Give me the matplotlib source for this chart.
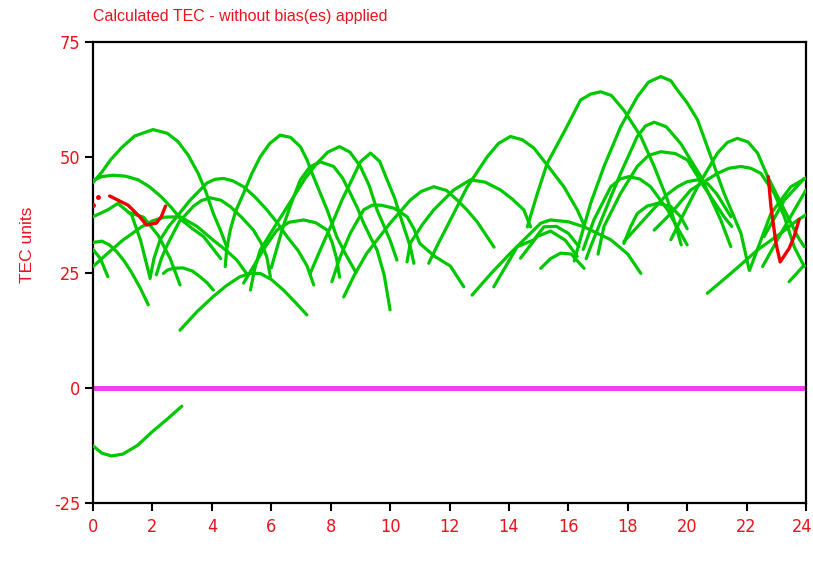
import matplotlib
matplotlib.use("Agg")
import matplotlib.pyplot as plt
import matplotlib.transforms as mtransforms
from matplotlib import font_manager as fm

# ---- data: (hour, TEC) samples ----
pass_01 = [(0, 44.5), (0.3, 46.8), (0.6, 49.5), (0.95, 52), (1.4, 54.6), (2.02, 56), (2.5, 55.2), (2.86, 53.4), (3.2, 50.5), (3.54, 46.5), (3.8, 42.5), (4.05, 37.8), (4.3, 34), (4.5, 30.6)]
pass_02 = [(0, 45), (0.3, 45.8), (0.67, 46.1), (1.1, 45.9), (1.52, 45.1), (1.9, 43.6), (2.3, 41.4), (2.65, 39), (2.98, 36.4), (3.35, 34.5), (3.72, 32.8), (4.0, 30.5), (4.3, 28)]
pass_03 = [(0, 31.5), (0.3, 31.8), (0.55, 31), (0.8, 29.5), (1.05, 27.5), (1.3, 25), (1.6, 21.5), (1.86, 18)]
pass_04 = [(0, 30), (0.25, 28), (0.5, 24.1)]
pass_05 = [(0, 26.3), (0.5, 29.2), (1.0, 32), (1.63, 34.9), (2.0, 36.2), (2.4, 37), (2.93, 37.1), (3.5, 35), (4.05, 32), (4.5, 29.7), (4.84, 27.7), (5.2, 24.5)]
pass_06 = [(2.37, 24.8), (2.5, 25.5), (2.7, 25.9), (3.03, 26), (3.35, 25.3), (3.6, 24.1), (3.85, 22.7), (4.05, 21.2)]
pass_07 = [(2.93, 12.5), (3.5, 16.5), (4.05, 19.8), (4.5, 22.2), (4.95, 24.1), (5.3, 24.8), (5.63, 24.8), (6.0, 23.5), (6.41, 21.2), (6.8, 18.6), (7.2, 15.8)]
pass_08 = [(1.92, 23.7), (2.05, 28), (2.26, 32.1), (2.55, 35), (2.82, 37.1), (3.27, 40.7), (3.83, 44.4), (4.1, 45.2), (4.39, 45.4), (4.7, 44.9), (5.07, 43.6), (5.45, 41.4), (5.85, 38.6), (6.2, 35.8), (6.53, 32.8), (6.9, 29.8), (7.2, 26.5), (7.43, 22.3)]
pass_09 = [(2.13, 24.5), (2.3, 28), (2.5, 31), (2.9, 36), (3.4, 39.5), (3.65, 40.6), (3.94, 41.2), (4.3, 40.7), (4.62, 39.3), (5.0, 37), (5.4, 34.2), (5.65, 31.5), (5.85, 28.4), (5.97, 24.1)]
pass_10 = [(4.45, 26.3), (4.5, 30), (4.62, 34.2), (4.8, 38.3), (5.07, 42.2), (5.35, 46.5), (5.63, 50.1), (5.95, 53), (6.3, 54.8), (6.65, 54.3), (6.98, 52.3), (7.2, 49.5), (7.42, 45.8), (7.65, 42.2), (7.88, 38.6), (8.2, 32.8), (8.5, 29), (8.85, 25)]
pass_11 = [(5.07, 22.7), (5.4, 26.3), (5.8, 30.6), (6.19, 34.2), (6.6, 35.9), (7.09, 36.4), (7.5, 35.8), (7.88, 34.2), (8.05, 31.5), (8.2, 28), (8.3, 24)]
pass_12 = [(6.0, 26), (6.2, 30.5), (6.4, 35), (6.7, 40.5), (6.98, 45.1), (7.3, 47.9), (7.65, 49), (8.1, 48), (8.4, 45.5), (8.66, 42.2), (8.9, 39), (9.11, 35.7), (9.35, 32.5), (9.56, 29.9), (9.8, 24.5), (10.0, 16.9)]
pass_13 = [(5.3, 21.2), (5.45, 26), (5.63, 29.9), (6.19, 35.7), (6.75, 41.4), (7.15, 45.5), (7.54, 48.7), (7.9, 51.1), (8.3, 52.3), (8.65, 51.1), (9.0, 48), (9.3, 43.8), (9.56, 38.6), (10.0, 32), (10.23, 27.7)]
pass_14 = [(7.31, 24.8), (7.65, 29.9), (8.1, 36.4), (8.4, 41), (8.66, 44.4), (9.0, 49), (9.34, 50.9), (9.65, 49.1), (9.9, 45.1), (10.15, 41.2), (10.35, 37.1), (10.68, 30.6), (10.8, 27)]
pass_15 = [(8.04, 23), (8.32, 28.4), (8.66, 33.5), (9.11, 38.6), (9.4, 39.6), (9.7, 39.6), (10.15, 38.9), (10.57, 37.1), (10.8, 34.5), (11.0, 31.3), (11.5, 28.5), (12.03, 26.4), (12.48, 21.9)]
pass_16 = [(8.44, 19.7), (8.8, 24.5), (9.22, 29.2), (10.0, 35.7), (10.68, 40.7), (11.05, 42.6), (11.47, 43.6), (11.9, 42.8), (12.26, 40.7), (12.6, 38.5), (12.93, 36), (13.5, 30.5)]
pass_17 = [(10.57, 27.3), (10.68, 31.4), (11.1, 35.5), (11.47, 38.6), (12.14, 42.9), (12.7, 45.1), (13.2, 44.6), (13.72, 42.9), (14.1, 41), (14.5, 38.6), (14.73, 34.9)]
pass_18 = [(11.3, 27), (11.6, 31), (12.14, 37.8), (12.6, 43.6), (13.27, 50.1), (13.65, 53), (14.05, 54.5), (14.45, 53.8), (14.84, 52), (15.29, 48.3), (15.85, 43.6), (16.3, 38.6), (16.55, 35)]
pass_19 = [(14.62, 34.9), (14.95, 42), (15.29, 48.7), (15.9, 56), (16.41, 62.4), (16.75, 63.7), (17.09, 64.2), (17.45, 63.4), (17.87, 60.2), (18.44, 54.5), (18.89, 48), (19.34, 40.7), (19.6, 35.5), (19.8, 31)]
pass_20 = [(16.2, 27.5), (16.3, 29.9), (16.75, 40), (17.2, 48), (17.76, 56.6), (18.32, 63.1), (18.7, 66.3), (19.11, 67.5), (19.45, 66.6), (19.67, 64.6), (20.0, 61.8), (20.35, 58.1), (20.8, 50.1), (21.24, 42.2), (21.81, 33.5), (22.09, 25.5)]
pass_21 = [(16.6, 28), (16.75, 30.6), (17.2, 37.8), (17.76, 46.5), (18.32, 54.5), (18.6, 56.8), (18.89, 57.6), (19.3, 56.6), (19.78, 53), (20.46, 45.8), (21.13, 36.4), (21.47, 30.6)]
pass_22 = [(17.0, 29), (17.2, 35), (17.76, 42.2), (18.32, 48), (18.7, 50.4), (19.11, 51.2), (19.6, 50.8), (20.01, 49.4), (20.57, 43.6), (21.24, 37.1), (21.5, 35)]
pass_23 = [(16.5, 30), (16.86, 36.4), (17.43, 43.6), (17.75, 45.3), (18.04, 45.8), (18.4, 45.3), (18.77, 43.6), (19.34, 38.6), (19.78, 33.5), (20.0, 31)]
pass_24 = [(17.87, 31.3), (18.1, 35), (18.32, 37.8), (18.65, 39.4), (19.0, 40), (19.45, 39.3), (19.78, 37.1), (20.0, 34.5)]
pass_25 = [(12.76, 20.1), (13.4, 24.8), (14.05, 29.2), (15.07, 35.7), (15.4, 36.4), (16.0, 36), (16.53, 34.9), (17.43, 32.1), (18.0, 29), (18.44, 24.8)]
pass_26 = [(19.45, 32.1), (19.78, 36.4), (20.35, 43.6), (21.02, 50.9), (21.35, 53.2), (21.69, 54.1), (22.05, 53.3), (22.37, 50.9), (22.71, 45.8), (23.27, 38.6), (23.72, 32.8), (23.94, 30.6)]
pass_27 = [(18.89, 34.2), (19.45, 37.8), (20.12, 42.9), (21.02, 46.5), (21.4, 47.6), (21.81, 48), (22.15, 47.6), (22.48, 46.5), (22.93, 42.2), (23.27, 37.1), (23.6, 30.6), (23.94, 26.3)]
pass_28 = [(17.87, 31.7), (18.9, 39), (19.3, 41.8), (19.67, 43.6), (20.0, 44.7), (20.35, 45.1), (20.7, 44.2), (21.0, 42), (21.47, 37.1)]
pass_29 = [(20.68, 20.5), (21.47, 24.8), (22.37, 29.9), (23.15, 33.5), (23.72, 36.4), (24.0, 37.5)]
pass_30 = [(22.59, 32.8), (23.27, 40.7), (23.94, 45.4)]
pass_31 = [(22.1, 25.5), (22.82, 37.8), (23.49, 43.6), (24.0, 45.5)]
pass_32 = [(22.54, 26.3), (23.2, 34), (24.0, 42.9)]
pass_33 = [(23.43, 23), (23.94, 26.6)]
pass_34 = [(13.49, 21.9), (14.28, 30.6), (14.84, 32.1), (15.18, 34.9), (15.6, 35), (16.0, 33.5), (16.36, 30.6)]
pass_35 = [(14.39, 28.1), (14.95, 32.8), (15.4, 34), (15.9, 32), (16.3, 28.5)]
pass_36 = [(15.07, 25.9), (15.4, 28), (15.74, 29.2), (16.1, 29), (16.53, 25.9)]
pass_37 = [(0, 37.1), (0.5, 38.6), (0.84, 40), (1.3, 37.5), (1.6, 32), (1.91, 24.1)]
pass_38 = [(1.2, 38), (1.7, 37), (2.2, 33), (2.6, 28), (2.93, 22.3)]
pass_39 = [(0, -12.6), (0.3, -14.2), (0.63, -14.8), (1.0, -14.4), (1.5, -12.5), (2.0, -9.5), (2.5, -6.8), (2.99, -4.0)]

green_passes = [pass_01, pass_02, pass_03, pass_04, pass_05, pass_06, pass_07, pass_08,
                pass_09, pass_10, pass_11, pass_12, pass_13, pass_14, pass_15, pass_16,
                pass_17, pass_18, pass_19, pass_20, pass_21, pass_22, pass_23, pass_24,
                pass_25, pass_26, pass_27, pass_28, pass_29, pass_30, pass_31, pass_32,
                pass_33, pass_34, pass_35, pass_36, pass_37, pass_38, pass_39]

red_pass_a = [(0.56, 41.6), (1.18, 39.6), (1.57, 37.1), (1.8, 35.3), (2.13, 35.7), (2.3, 37.1), (2.44, 39.4)]
red_dots_a = [(0.0, 39.6), (0.17, 41.4)]
red_pass_b = [(22.73, 45.8), (22.82, 39.3), (22.99, 31.3), (23.13, 27.3), (23.43, 30.2), (23.6, 32.8), (23.77, 36.5)]

zero_line_x = [0, 24]
zero_line_y = [0, 0]

x_ticks = list(range(0, 25, 2))
y_ticks = [-25, 0, 25, 50, 75]

title_text = "Calculated TEC - without bias(es) applied"
y_label_text = "TEC units"

# ---- fonts ----
names = {f.name for f in fm.fontManager.ttflist}
tick_kw = dict(fontsize=13)
if "Liberation Sans Narrow" in names:
    tick_kw["family"] = ["Liberation Sans Narrow", "DejaVu Sans"]
    tick_kw["fontsize"] = 13.5
elif "DejaVu Sans Condensed" in names:
    tick_kw["family"] = ["DejaVu Sans Condensed", "DejaVu Sans"]
    tick_kw["fontsize"] = 13
elif any(f.name == "DejaVu Sans" and f.stretch == "condensed" for f in fm.fontManager.ttflist):
    tick_kw["family"] = ["DejaVu Sans"]
    tick_kw["fontstretch"] = "condensed"
    tick_kw["fontsize"] = 13
else:
    tick_kw["family"] = ["Liberation Sans", "DejaVu Sans"]
    tick_kw["fontsize"] = 12

# ---- drawing ----
RED = "#e8141c"
GREEN = "#00c800"
MAGENTA = "#f040f0"

fig = plt.figure(figsize=(8.13, 5.65), dpi=100)
ax = fig.add_axes([93 / 813, 1 - 503 / 565, (806 - 93) / 813, (503 - 42) / 565])

ax.plot(zero_line_x, zero_line_y, color=MAGENTA, lw=3.6, solid_capstyle="butt", zorder=2)

for p in green_passes:
    xs = [v[0] for v in p]
    ys = [v[1] for v in p]
    ax.plot(xs, ys, color=GREEN, lw=2.3, solid_capstyle="round", solid_joinstyle="round", zorder=3)

for p in [red_pass_a, red_pass_b]:
    ax.plot([v[0] for v in p], [v[1] for v in p], color="#ee0000", lw=2.4,
            solid_capstyle="round", solid_joinstyle="round", zorder=4)
ax.plot([v[0] for v in red_dots_a], [v[1] for v in red_dots_a], ls="none", marker="o",
        ms=2.5, color="#ee0000", zorder=4)

ax.set_xlim(0, 24)
ax.set_ylim(-25, 75)
ax.set_xticks(x_ticks)
ax.set_yticks(y_ticks)
ax.set_xticklabels([str(t) for t in x_ticks], color=RED, **tick_kw)
ax.set_yticklabels([str(t) for t in y_ticks], color=RED, **tick_kw)
ax.tick_params(axis="both", direction="out", length=6, width=1.5, color="black", pad=3)
ax.tick_params(axis="x", pad=5)
for s in ax.spines.values():
    s.set_linewidth(1.6)
    s.set_color("black")

# keep the last x label inside the canvas
last = ax.get_xticklabels()[-1]
last.set_transform(last.get_transform() + mtransforms.ScaledTranslation(-4 / 100, 0, fig.dpi_scale_trans))

fig.text(93 / 813, 1 - 16 / 565, title_text, color=RED, fontsize=11.5,
         family=["Liberation Sans", "DejaVu Sans"], ha="left", va="center")
fig.text(28 / 813, 1 - 245 / 565, y_label_text, color=RED, fontsize=12.5,
         family=["Liberation Sans", "DejaVu Sans"], rotation=90, ha="center", va="center")

fig.savefig("out.png", dpi=100)
